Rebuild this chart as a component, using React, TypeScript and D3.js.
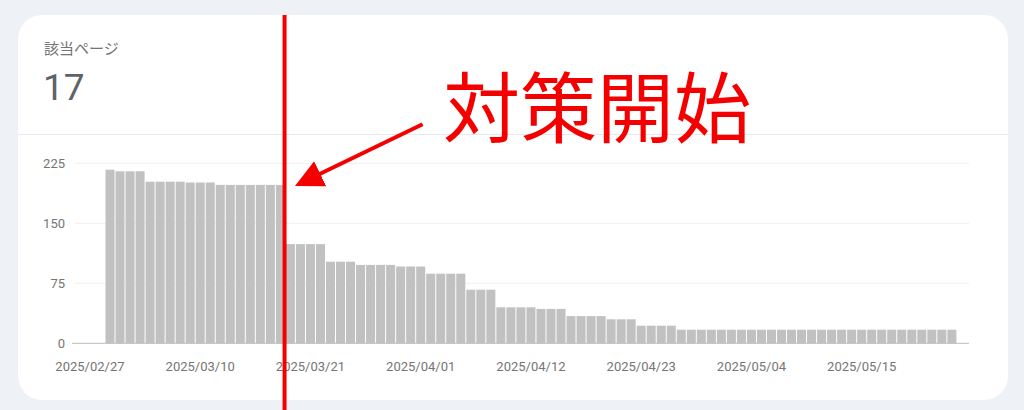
import { useMemo } from "react";
import * as d3 from "d3";

const W = 1024;
const H = 410;

// 該当ページ: daily counts from 2025/03/01 to 2025/05/24
const firstDay = "2025-03-01";
const pageCounts = [
  217, 215, 215, 215, 202, 202, 202, 202, 201, 201, 201, 198, 198, 198, 198,
  198, 198, 198, 124, 124, 124, 124, 102, 102, 102, 98, 98, 98, 98, 96, 96, 96,
  87, 87, 87, 87, 67, 67, 67, 45, 45, 45, 45, 43, 43, 43, 34, 34, 34, 34, 30,
  30, 30, 22, 22, 22, 22, 17, 17, 17, 17, 17, 17, 17, 17, 17, 17, 17, 17, 17,
  17, 17, 17, 17, 17, 17, 17, 17, 17, 17, 17, 17, 17, 17, 17,
];
const yTicks = [0, 75, 150, 225];
const xTickLabels = [
  "2025/02/27",
  "2025/03/10",
  "2025/03/21",
  "2025/04/01",
  "2025/04/12",
  "2025/04/23",
  "2025/05/04",
  "2025/05/15",
];
const metricTitle = "該当ページ";
const metricValue = "17";
const annotationText = "対策開始";
const annotationDate = "2025-03-18T22:00:00Z";
const annotationValue = 195;

const parseDay = (s: string) => new Date(s.replace(/\//g, "-") + "T00:00:00Z");

export default function App() {
  const days = useMemo(
    () => pageCounts.map((_, i) => d3.utcDay.offset(parseDay(firstDay), i)),
    [],
  );

  const x = d3
    .scaleUtc()
    .domain([
      new Date(Date.UTC(2025, 1, 25, 17)),
      new Date(Date.UTC(2025, 4, 26, 5)),
    ])
    .range([72, 969]);
  const y = d3.scaleLinear().domain([0, 225]).range([343.3, 163.3]);

  const grey = "#757575";
  const red = "#f50000";
  const ax = x(new Date(annotationDate));
  const tipX = ax + 8;
  const tipY = y(annotationValue);

  return (
    <div style={{ position: "fixed", inset: 0, background: "#eef1f6" }}>
      <svg width={W} height={H} style={{ display: "block" }}>
        <defs>
          <marker
            id="arrowhead"
            viewBox="0 0 10 10"
            refX="7"
            refY="5"
            markerWidth="7"
            markerHeight="7"
            orient="auto-start-reverse"
          >
            <path d="M0,0 L10,5 L0,10 Z" fill={red} />
          </marker>
        </defs>

        {/* card */}
        <rect x={18} y={15} width={990} height={385} rx={24} fill="#ffffff" />
        <line x1={18} x2={1008} y1={134.5} y2={134.5} stroke="#e6e8eb" />

        <text
          x={44}
          y={54}
          fontSize={15}
          fill={grey}
          fontFamily="'Noto Sans CJK JP', sans-serif"
        >
          {metricTitle}
        </text>
        <text
          x={43}
          y={100}
          fontSize={37}
          fill="#5f6368"
          fontFamily="Roboto, sans-serif"
        >
          {metricValue}
        </text>

        {/* grid + y axis */}
        {yTicks.map((t) => (
          <g key={t}>
            {t > 0 && (
              <line
                x1={75}
                x2={969}
                y1={y(t)}
                y2={y(t)}
                stroke="#efefef"
              />
            )}
            <text
              x={65}
              y={y(t)}
              dy="0.35em"
              textAnchor="end"
              fontSize={13}
              fill={grey}
              fontFamily="Roboto, sans-serif"
            >
              {t}
            </text>
          </g>
        ))}

        {/* bars */}
        {pageCounts.map((v, i) => {
          const x0 = x(days[i]);
          const x1 = x(d3.utcDay.offset(days[i], 1));
          return (
            <rect
              key={i}
              x={x0 + 0.5}
              y={y(v)}
              width={x1 - x0 - 1}
              height={y(0) - y(v)}
              fill="#c1c1c1"
            />
          );
        })}

        <line
          x1={72}
          x2={969}
          y1={y(0)}
          y2={y(0)}
          stroke="#bdbdbd"
          strokeWidth={1}
        />

        {/* x labels */}
        {xTickLabels.map((lab) => (
          <text
            key={lab}
            x={x(d3.utcHour.offset(parseDay(lab), 12))}
            y={371}
            textAnchor="middle"
            fontSize={13}
            fill={grey}
            fontFamily="Roboto, sans-serif"
          >
            {lab}
          </text>
        ))}

        {/* annotation */}
        <line x1={ax} x2={ax} y1={15} y2={H} stroke={red} strokeWidth={4} />
        <line
          x1={tipX + 130}
          y1={tipY - 63}
          x2={tipX + 10}
          y2={tipY - 5}
          stroke={red}
          strokeWidth={4}
          markerEnd="url(#arrowhead)"
        />
        <text
          x={443}
          y={137}
          fontSize={77}
          fill={red}
          fontFamily="'Noto Sans CJK JP', sans-serif"
        >
          {annotationText}
        </text>
      </svg>
    </div>
  );
}
